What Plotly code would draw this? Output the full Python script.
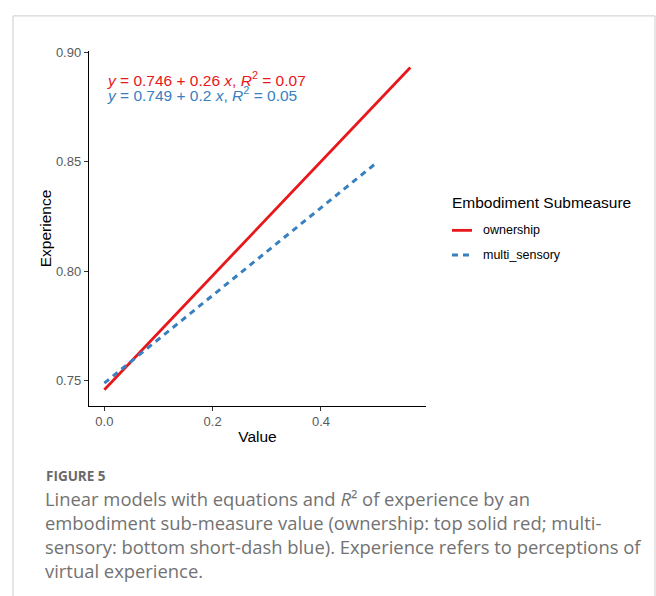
import plotly.graph_objects as go

# Data: fitted linear model endpoints
series_names = ["ownership", "multi_sensory"]
ownership_x = [0.0, 0.565]
ownership_y = [0.746, 0.893]
multi_x = [0.0, 0.5]
multi_y = [0.749, 0.849]
eq_ownership = "<i>y</i> = 0.746 + 0.26 <i>x</i>, <i>R</i><sup>2</sup> = 0.07"
eq_multi = "<i>y</i> = 0.749 + 0.2 <i>x</i>, <i>R</i><sup>2</sup> = 0.05"
x_ticks = [0.0, 0.2, 0.4]
x_ticklabels = ["0.0", "0.2", "0.4"]
y_ticks = [0.75, 0.80, 0.85, 0.90]
y_ticklabels = ["0.75", "0.80", "0.85", "0.90"]
legend_title = "Embodiment Submeasure"

RED = "#e8171c"
BLUE = "#3880c0"
FONT = "Liberation Sans, Arial, sans-serif"

W, H = 656, 596


def px_x(p):
    return p / W


def px_y(p):
    return 1 - p / H


fig = go.Figure()
fig.add_trace(go.Scatter(x=ownership_x, y=ownership_y, mode="lines", name=series_names[0],
                         line=dict(color=RED, width=2.8)))
fig.add_trace(go.Scatter(x=multi_x, y=multi_y, mode="lines", name=series_names[1],
                         line=dict(color=BLUE, width=3, dash="6px,5px")))

axis_common = dict(showgrid=False, zeroline=False, showline=True, linecolor="black", linewidth=1.4,
                   ticks="outside", ticklen=4, tickcolor="#333333", tickwidth=1,
                   tickfont=dict(family=FONT, size=13, color="#5a5a5a"))

fig.update_xaxes(range=[-0.0283, 0.594], tickvals=x_ticks, ticktext=x_ticklabels,
                 domain=[px_x(89), px_x(426)],
                 title=dict(text="Value", font=dict(family=FONT, size=15.5, color="black"), standoff=2),
                 **axis_common)
fig.update_yaxes(range=[0.7387, 0.9004], tickvals=y_ticks, ticktext=y_ticklabels,
                 domain=[px_y(403.4), px_y(44.8)],
                 title=dict(text="Experience", font=dict(family=FONT, size=15.5, color="black"), standoff=0),
                 **axis_common)

annotations = [
    dict(x=px_x(106), y=px_y(73), xref="paper", yref="paper", xanchor="left", yanchor="middle",
         text=eq_ownership, showarrow=False, borderpad=0, font=dict(family=FONT, size=15.5, color=RED)),
    dict(x=px_x(106), y=px_y(88.5), xref="paper", yref="paper", xanchor="left", yanchor="middle",
         text=eq_multi, showarrow=False, borderpad=0, font=dict(family=FONT, size=15.5, color=BLUE)),
    # legend (manual, to match spacing)
    dict(x=px_x(450), y=px_y(198), xref="paper", yref="paper", xanchor="left", yanchor="middle",
         text=legend_title, showarrow=False, font=dict(family=FONT, size=15.5, color="black")),
    dict(x=px_x(481), y=px_y(226), xref="paper", yref="paper", xanchor="left", yanchor="middle",
         text=series_names[0], showarrow=False, font=dict(family=FONT, size=12.5, color="black")),
    dict(x=px_x(481), y=px_y(251), xref="paper", yref="paper", xanchor="left", yanchor="middle",
         text=series_names[1], showarrow=False, font=dict(family=FONT, size=12.5, color="black")),
    # caption
    dict(x=px_x(45), y=px_y(475), xref="paper", yref="paper", xanchor="left", yanchor="middle",
         text="<b>FIGURE 5</b>", showarrow=False, borderpad=0,
         font=dict(family="Open Sans, sans-serif", size=13.5, color="#6a6a6a")),
    dict(x=px_x(44), y=px_y(484), xref="paper", yref="paper", xanchor="left", yanchor="top",
         align="left", borderpad=0,
         text=("Linear models with equations and <i>R</i>² of experience by an<br>"
               "embodiment sub-measure value (ownership: top solid red; multi-<br>"
               "sensory: bottom short-dash blue). Experience refers to perceptions of<br>"
               "virtual experience."),
         showarrow=False, font=dict(family="Open Sans, sans-serif", size=18.4, color="#727272")),
]

shapes = [
    dict(type="rect", xref="paper", yref="paper", x0=px_x(13), x1=px_x(655), y0=-0.05, y1=px_y(9),
         line=dict(color="#cccccc", width=1), fillcolor="rgba(0,0,0,0)", layer="below"),
    dict(type="line", xref="paper", yref="paper", x0=px_x(452), x1=px_x(472), y0=px_y(226), y1=px_y(226),
         line=dict(color=RED, width=2.8)),
    dict(type="line", xref="paper", yref="paper", x0=px_x(452), x1=px_x(473), y0=px_y(251), y1=px_y(251),
         line=dict(color=BLUE, width=3, dash="6px,5px")),
]

fig.update_layout(
    width=W, height=H,
    margin=dict(l=0, r=0, t=0, b=0),
    paper_bgcolor="white", plot_bgcolor="white",
    showlegend=False,
    annotations=annotations,
    shapes=shapes,
)

fig.write_html("out.html")
